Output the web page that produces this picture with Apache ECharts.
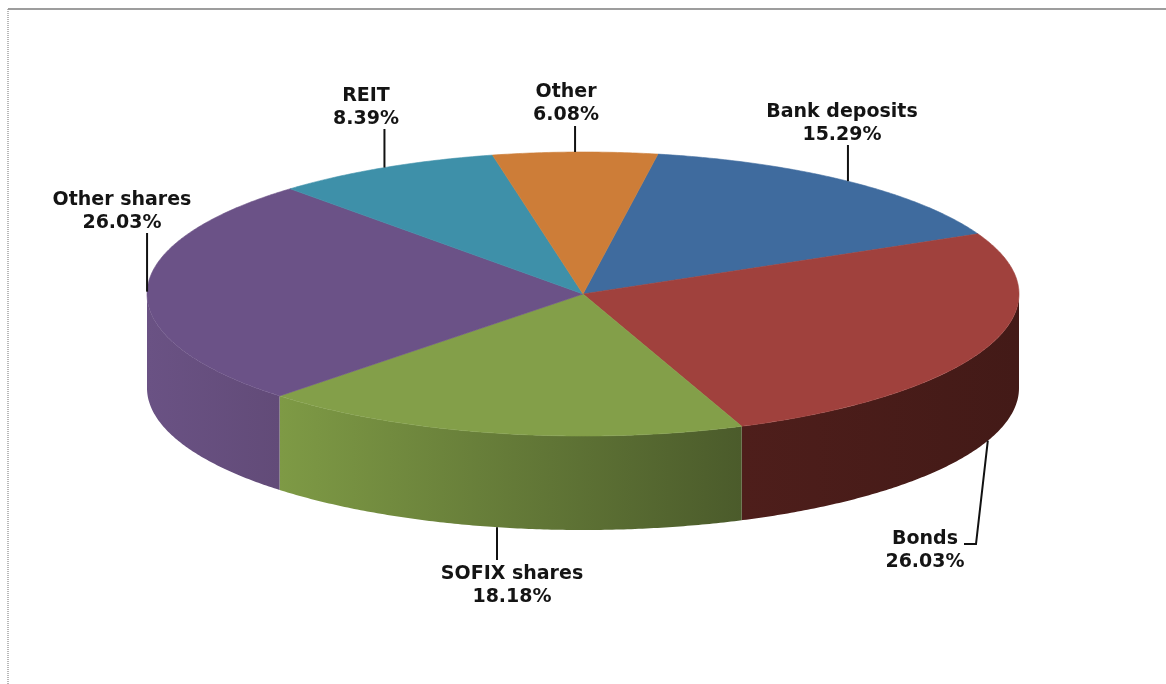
<!DOCTYPE html>
<html>
<head>
<meta charset="utf-8">
<style>html,body{margin:0;padding:0;background:#fff}#c{width:1166px;height:684px}</style>
<script src="https://cdn.jsdelivr.net/npm/echarts@6/dist/echarts.min.js"></script>
</head>
<body>
<div id="c"></div>
<script>
// Data
var categories = ['Bank deposits', 'Bonds', 'SOFIX shares', 'Other shares', 'REIT', 'Other'];
var shares = [15.29, 26.03, 18.18, 26.03, 8.39, 6.08];

// Styles
var topColors = ['#3f6b9e', '#a0413d', '#839f49', '#6b5287', '#3e90a9', '#cd7d38'];
var sideStops = [
  ['#3f6b9e', '#2f5078'],
  ['#4e1e1b', '#431a17'],
  ['#7e9a45', '#4b5b2b'],
  ['#6a5284', '#624b78'],
  ['#3e90a9', '#2f6d80'],
  ['#cd7d38', '#9c5e2a']
];
// Pie geometry (projected disc)
var CX = 583, CY = 294, RX = 436, RY = 142, DEPTH = 94, START_DEG = 9.9;
// Label centre and leader end for each slice (null x = straight up/down from the slice)
var labelCentres = [[842, 124], [925, 551], [512, 586], [122, 212], [366, 108], [566, 104]];
var leaderPaths = [
  [[null, 145]],
  [[976, 544], [964, 544]],
  [[null, 560]],
  [[null, 233]],
  [[null, 129]],
  [[null, 126]]
];
var leaderOnSide = [false, true, true, false, false, false];

var total = shares.reduce(function (a, b) { return a + b; }, 0);
function sliceRange(i) {
  var before = 0;
  for (var k = 0; k < i; k++) before += shares[k];
  return [START_DEG + before / total * 360, START_DEG + (before + shares[i]) / total * 360];
}
function pt(deg, dy) {
  var r = deg * Math.PI / 180;
  return [CX + RX * Math.sin(r), CY - RY * Math.cos(r) + (dy || 0)];
}
function tableRows() {
  return categories.map(function (c, i) { return [i, shares[i], c]; });
}

function renderTop(params, api) {
  var i = api.value(0), range = sliceRange(i), pts = [[CX, CY]];
  for (var a = range[0]; a < range[1]; a += 0.5) pts.push(pt(a));
  pts.push(pt(range[1]));
  return {
    type: 'polygon', shape: { points: pts },
    style: { fill: topColors[i], stroke: topColors[i], lineWidth: 0.6 }
  };
}
function renderSide(params, api) {
  var i = api.value(0), range = sliceRange(i);
  // visible front half of the rim: 90deg .. 270deg from the top
  var s = Math.max(range[0], 90), e = Math.min(range[1], 270);
  if (e <= s) return null;
  var upper = [], lower = [];
  for (var a = s; a < e; a += 0.5) { upper.push(pt(a)); lower.unshift(pt(a, DEPTH)); }
  upper.push(pt(e)); lower.unshift(pt(e, DEPTH));
  var x0 = pt(s)[0], x1 = pt(e)[0];
  if (x0 > x1) { var t = x0; x0 = x1; x1 = t; }
  var stops = sideStops[i];
  return {
    type: 'polygon', shape: { points: upper.concat(lower) },
    style: {
      stroke: null,
      fill: {
        type: 'linear', global: true, x: x0, y: 0, x2: x1, y2: 0,
        colorStops: [{ offset: 0, color: stops[0] }, { offset: 1, color: stops[1] }]
      }
    }
  };
}
function renderLabel(params, api) {
  var i = api.value(0), range = sliceRange(i), mid = (range[0] + range[1]) / 2;
  var anchor = pt(mid, leaderOnSide[i] ? DEPTH : 0);
  var c = labelCentres[i];
  var path = leaderPaths[i].map(function (p) { return [p[0] === null ? anchor[0] : p[0], p[1]]; });
  return {
    type: 'group',
    children: [
      {
        type: 'polyline',
        shape: { points: [anchor].concat(path) },
        style: { stroke: '#111', lineWidth: 2, fill: null }
      },
      {
        type: 'text',
        x: c[0], y: c[1],
        style: {
          text: categories[i] + '\n' + shares[i].toFixed(2) + '%',
          fontFamily: '"DejaVu Sans", Verdana, sans-serif',
          fontWeight: 'bold', fontSize: 19, lineHeight: 23,
          fill: '#141414', align: 'center', verticalAlign: 'middle'
        }
      }
    ]
  };
}

var chart = echarts.init(document.getElementById('c'), null, { renderer: 'canvas' });
var leftX = 8, topY = 9;
chart.setOption({
  animation: false,
  backgroundColor: '#ffffff',
  graphic: [
    { type: 'line', shape: { x1: leftX, y1: topY, x2: 1166, y2: topY }, style: { stroke: '#7d7d7d', lineWidth: 1.6 } },
    { type: 'line', shape: { x1: leftX, y1: topY, x2: leftX, y2: 684 }, style: { stroke: '#9a9a9a', lineWidth: 1.4, lineDash: [1, 1] } }
  ],
  series: [
    { type: 'custom', coordinateSystem: 'none', name: 'side', z: 2, silent: true, data: tableRows(), renderItem: renderSide },
    { type: 'custom', coordinateSystem: 'none', name: 'top', z: 3, silent: true, data: tableRows(), renderItem: renderTop },
    { type: 'custom', coordinateSystem: 'none', name: 'labels', z: 4, silent: true, data: tableRows(), renderItem: renderLabel }
  ]
});
</script>
</body>
</html>
